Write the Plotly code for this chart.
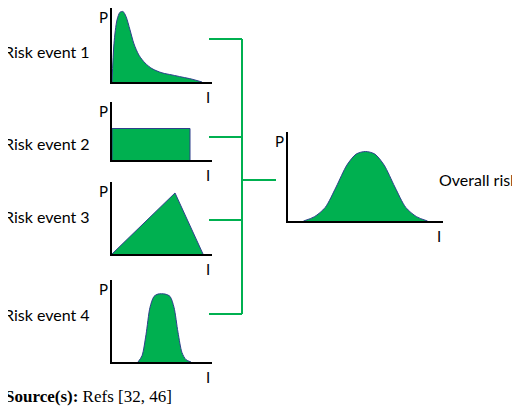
import plotly.graph_objects as go

OFF = 8  # page body margin
W, H = 520 - OFF, 408 - OFF
labels = ["Risk event 1", "Risk event 2", "Risk event 3", "Risk event 4"]
overall_label = "Overall risk"
axis_p, axis_i = "P", "I"

e1_x = [0, 0.02, 0.05, 0.08, 0.11, 0.14, 0.18, 0.22, 0.27, 0.33, 0.40, 0.50, 0.60, 0.70, 0.80, 0.90]
e1_y = [0, 0.55, 0.88, 0.99, 1.0, 0.93, 0.74, 0.54, 0.38, 0.27, 0.19, 0.13, 0.10, 0.07, 0.04, 0.0]
e2_x = [0, 0, 0.78, 0.78]
e2_y = [0, 0.57, 0.57, 0]
e3_x = [0, 0.63, 0.91]
e3_y = [0, 0.89, 0]
e4_x = [0.26, 0.30, 0.34, 0.38, 0.42, 0.46, 0.53, 0.58, 0.62, 0.66, 0.70, 0.74, 0.79]
e4_y = [0, 0.08, 0.35, 0.70, 0.84, 0.87, 0.87, 0.84, 0.70, 0.38, 0.12, 0.03, 0]
ov_x = [0.10, 0.17, 0.24, 0.31, 0.38, 0.44, 0.50, 0.56, 0.62, 0.69, 0.76, 0.83, 0.90]
ov_y = [0, 0.05, 0.16, 0.40, 0.66, 0.79, 0.82, 0.79, 0.66, 0.40, 0.16, 0.05, 0]

panels = [
    (e1_x, e1_y, (112, 212, 8, 82), (2, 52)),
    (e2_x, e2_y, (112, 212, 102, 160), (2, 143)),
    (e3_x, e3_y, (112, 212, 182, 254), (2, 216)),
    (e4_x, e4_y, (112, 212, 280, 362), (2, 314)),
    (ov_x, ov_y, (288, 443, 132, 221), (437, 180)),
]
def px(x): return (x - OFF) / W
def py(y): return 1 - (y - OFF) / H

GREEN = "#00b050"
fig = go.Figure()
ann = []
for i, (xs, ys, (l, r, t, b), (lx, ly)) in enumerate(panels):
    n = "" if i == 0 else str(i + 1)
    shape = "linear" if i in (1, 2) else "spline"
    fig.add_trace(go.Scatter(x=xs, y=ys, mode="lines", fill="tozeroy", fillcolor=GREEN,
                             line=dict(color="#2e3f8c", width=1, shape=shape, smoothing=0.8),
                             xaxis="x" + n, yaxis="y" + n, showlegend=False, hoverinfo="skip"))
    common = dict(showgrid=False, zeroline=False, showticklabels=False, ticks="",
                  showline=True, linecolor="black", linewidth=2, fixedrange=True)
    fig.update_layout(**{
        "xaxis" + n: dict(domain=[px(l), px(r)], range=[0, 1], anchor="y" + n, **common),
        "yaxis" + n: dict(domain=[py(b), py(t)], range=[0, 1.05], anchor="x" + n, **common),
    })
    ann.append(dict(x=px(l - 2), y=py(t - 2), text=axis_p, xanchor="right", yanchor="top"))
    ann.append(dict(x=px(r - 4), y=py(b + 4), text=axis_i, xanchor="center", yanchor="top"))
    txt = labels[i] if i < 4 else overall_label
    ann.append(dict(x=px(lx), y=py(ly), text=txt, xanchor="left", yanchor="middle",
                    font=dict(size=16)))
for a in ann:
    a.setdefault("font", dict(size=15))
    a.update(xref="paper", yref="paper", showarrow=False)
ann.append(dict(x=px(3), y=py(396), xref="paper", yref="paper", showarrow=False,
                xanchor="left", yanchor="middle",
                text="<b>Source(s):</b> Refs [32, 46]",
                font=dict(family="Liberation Serif", size=17, color="black")))

shapes = []
def seg(x0, y0, x1, y1):
    shapes.append(dict(type="line", xref="paper", yref="paper", x0=px(x0), y0=py(y0),
                       x1=px(x1), y1=py(y1), line=dict(color=GREEN, width=2)))
for yy in (39, 137, 220, 314):
    seg(209, yy, 242, yy)
seg(242, 39, 242, 314)
seg(242, 180, 276, 180)

fig.update_layout(width=W, height=H, margin=dict(l=0, r=0, t=0, b=0),
                  paper_bgcolor="white", plot_bgcolor="white",
                  font=dict(family="Lato, Open Sans", color="black"),
                  annotations=ann, shapes=shapes)
fig.write_html("out.html")
